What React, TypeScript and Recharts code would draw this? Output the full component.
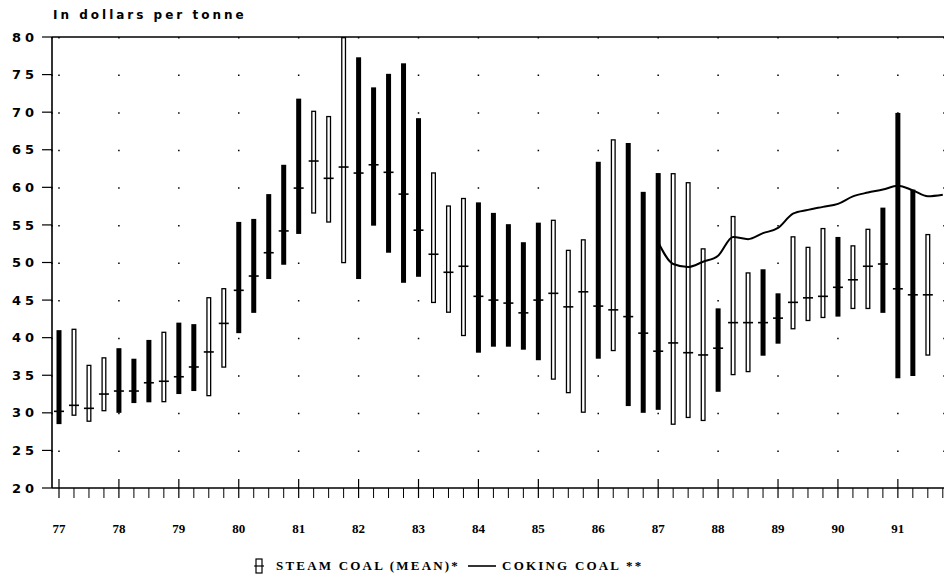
import React from "react"
import {
  ComposedChart,
  Bar,
  Line,
  Scatter,
  XAxis,
  YAxis,
  CartesianGrid,
  ReferenceLine,
  Legend,
} from "recharts"

// year labels, one per four quarters starting 1977 Q1
const years = ["77", "78", "79", "80", "81", "82", "83", "84", "85", "86", "87", "88", "89", "90", "91"]

// steam coal, quarterly range and mean (dollars per tonne)
const steamLow = [
  28.5, 29.6, 28.8, 30.2, 30.0, 31.3, 31.4, 31.4, 32.5, 32.9,
  32.2, 36.0, 40.6, 43.3, 47.8, 49.7, 53.8, 56.5, 55.3, 49.9,
  47.8, 54.9, 51.3, 47.3, 48.1, 44.6, 43.3, 40.2, 38.0, 38.8,
  38.8, 38.4, 37.0, 34.4, 32.6, 30.0, 37.2, 38.2, 30.9, 30.0,
  30.4, 28.4, 29.3, 28.9, 32.8, 35.0, 35.4, 37.6, 39.2, 41.1,
  42.2, 42.6, 42.8, 43.8, 43.8, 43.3, 34.6, 34.9, 37.6,
]
const steamHigh = [
  41.0, 41.2, 36.4, 37.4, 38.6, 37.2, 39.7, 40.8, 42.0, 41.8,
  45.4, 46.6, 55.4, 55.8, 59.1, 63.0, 71.8, 70.2, 69.5, 80.0,
  77.3, 73.3, 75.1, 76.5, 69.2, 62.0, 57.6, 58.6, 58.0, 56.6,
  55.1, 52.7, 55.3, 55.7, 51.7, 53.1, 63.4, 66.4, 65.9, 59.4,
  61.9, 61.9, 60.7, 51.9, 43.9, 56.2, 48.7, 49.1, 45.9, 53.5,
  52.1, 54.6, 53.4, 52.3, 54.5, 57.3, 69.9, 59.7, 53.8,
]
const steamMean = [
  30.2, 31.0, 30.6, 32.5, 32.9, 32.9, 34.0, 34.2, 34.8, 36.1,
  38.1, 41.9, 46.3, 48.2, 51.3, 54.2, 59.9, 63.5, 61.2, 62.7,
  61.9, 63.0, 62.0, 59.1, 54.3, 51.1, 48.7, 49.5, 45.5, 45.0,
  44.6, 43.3, 45.0, 45.9, 44.1, 46.1, 44.2, 43.7, 42.8, 40.6,
  38.2, 39.3, 38.0, 37.7, 38.6, 42.0, 42.0, 42.0, 42.6, 44.7,
  45.3, 45.5, 46.7, 47.7, 49.5, 49.8, 46.5, 45.7, 45.7,
]
// 1 = solid bar, 0 = open bar
const steamSolid = [
  1, 0, 0, 0, 1, 1, 1, 0, 1, 1,
  0, 0, 1, 1, 1, 1, 1, 0, 0, 0,
  1, 1, 1, 1, 1, 0, 0, 0, 1, 1,
  1, 1, 1, 0, 0, 0, 1, 0, 1, 1,
  1, 0, 0, 0, 1, 0, 0, 1, 1, 0,
  0, 0, 1, 0, 0, 1, 1, 1, 0,
]

// coking coal, from 1987 Q1 (quarter 40) to 1991 Q4
const cokingStart = 40
const coking = [
  52.7, 49.8, 49.4, 50.1, 50.9, 53.4, 53.1, 53.9, 54.6, 56.5,
  57.0, 57.4, 57.8, 58.8, 59.3, 59.7, 60.2, 59.6, 58.8, 59.0,
]

const quarterCount = years.length * 4
const data = Array.from({ length: quarterCount }, (_, i) => ({
  q: i,
  range: i < steamLow.length ? [steamLow[i], steamHigh[i]] : null,
  mean: i < steamMean.length ? steamMean[i] : null,
  solid: steamSolid[i] === 1,
  coking: i >= cokingStart ? coking[i - cokingStart] : null,
}))

const quarterTicks = data.map((d) => d.q)
const yearTicks = quarterTicks.filter((q) => q % 4 === 0)
const yTicks = [20, 25, 30, 35, 40, 45, 50, 55, 60, 65, 70, 75, 80]
const xDomain = [-0.467, 59.08]

const labelFont = "'DejaVu Sans', sans-serif"
const serifFont = "'Liberation Serif', serif"

function QuarterTick(props: any) {
  const { x, y, payload } = props
  const v = payload.value
  if (v % 4 === 0) {
    return (
      <g>
        <line x1={x} x2={x} y1={y - 9} y2={y + 10} stroke="#000" strokeWidth={1.2} />
        <text
          x={x}
          y={y + 45}
          textAnchor="middle"
          fontFamily={serifFont}
          fontWeight="bold"
          fontSize={13}
          fill="#000"
        >
          {years[v / 4]}
        </text>
      </g>
    )
  }
  return <line x1={x} x2={x} y1={y} y2={y + 10} stroke="#000" strokeWidth={1} />
}

function RangeBar(props: any) {
  const { x, y, width, height, payload } = props
  if (!Number.isFinite(y) || !Number.isFinite(height)) return null
  const top = Math.min(y, y + height)
  const h = Math.abs(height)
  if (payload.solid) {
    return <rect x={x} y={top} width={width} height={h} fill="#000" />
  }
  return (
    <rect
      x={x + 0.65}
      y={top + 0.65}
      width={width - 1.3}
      height={Math.max(h - 1.3, 0)}
      fill="#fff"
      stroke="#000"
      strokeWidth={1.3}
    />
  )
}

function MeanTick(props: any) {
  const { cx, cy } = props
  if (!Number.isFinite(cx) || !Number.isFinite(cy)) return null
  return <line x1={cx - 5} x2={cx + 5} y1={cy} y2={cy} stroke="#000" strokeWidth={1.6} />
}

function ChartLegend() {
  const text: React.CSSProperties = {
    fontFamily: serifFont,
    fontWeight: "bold",
    fontSize: 13,
    letterSpacing: 2.2,
    color: "#000",
    whiteSpace: "nowrap",
  }
  return (
    <div style={{ display: "flex", alignItems: "center", paddingLeft: 254 }}>
      <svg width={10} height={16} style={{ marginRight: 12 }}>
        <rect x={2} y={1} width={6} height={14} fill="#fff" stroke="#000" strokeWidth={1.2} />
        <line x1={0} x2={10} y1={8} y2={8} stroke="#000" strokeWidth={1.2} />
      </svg>
      <span style={text}>STEAM COAL (MEAN)*</span>
      <svg width={28} height={4} style={{ marginLeft: 8, marginRight: 6 }}>
        <line x1={0} x2={28} y1={2} y2={2} stroke="#000" strokeWidth={1.6} />
      </svg>
      <span style={text}>COKING COAL **</span>
    </div>
  )
}

export default function App() {
  return (
    <div
      style={{
        position: "absolute",
        left: 0,
        top: 0,
        width: 944,
        height: 584,
        overflow: "hidden",
        background: "#fff",
      }}
    >
      <div
        style={{
          position: "absolute",
          left: 53,
          top: 8,
          fontFamily: labelFont,
          fontWeight: "bold",
          fontSize: 12,
          letterSpacing: 3,
          color: "#000",
          whiteSpace: "nowrap",
        }}
      >
        In dollars per tonne
      </div>
      <ComposedChart
        width={944}
        height={584}
        data={data}
        margin={{ top: 37, right: 0, bottom: 0, left: 0 }}
      >
        <XAxis
          xAxisId="years"
          type="number"
          dataKey="q"
          domain={xDomain}
          allowDataOverflow
          ticks={yearTicks}
          hide
        />
        <CartesianGrid
          xAxisId="years"
          horizontal={false}
          stroke="#000"
          strokeWidth={1.5}
          strokeDasharray="1.5 36.08"
        />
        <XAxis
          type="number"
          dataKey="q"
          domain={xDomain}
          allowDataOverflow
          ticks={quarterTicks}
          interval={0}
          tick={QuarterTick}
          tickLine={false}
          tickSize={0}
          tickMargin={0}
          height={96}
          axisLine={{ stroke: "#000", strokeWidth: 1.5 }}
        />
        <YAxis
          type="number"
          domain={[20, 80]}
          ticks={yTicks}
          interval={0}
          width={52}
          tickSize={10}
          tickMargin={4}
          axisLine={{ stroke: "#000", strokeWidth: 1.6 }}
          tickLine={{ stroke: "#000", strokeWidth: 1.2 }}
          tick={{
            fill: "#000",
            fontFamily: labelFont,
            fontWeight: "bold",
            fontSize: 13,
            letterSpacing: 4,
          }}
        />
        <ReferenceLine y={80} stroke="#000" strokeWidth={1.6} />
        <Bar dataKey="range" barSize={5} shape={RangeBar} isAnimationActive={false} />
        <Scatter dataKey="mean" shape={MeanTick} isAnimationActive={false} />
        <Line
          dataKey="coking"
          type="monotone"
          stroke="#000"
          strokeWidth={2}
          dot={false}
          activeDot={false}
          connectNulls={false}
          isAnimationActive={false}
        />
        <Legend
          verticalAlign="middle"
          align="center"
          layout="horizontal"
          wrapperStyle={{ top: 558, left: 0, width: 944 }}
          content={() => <ChartLegend />}
        />
      </ComposedChart>
    </div>
  )
}
